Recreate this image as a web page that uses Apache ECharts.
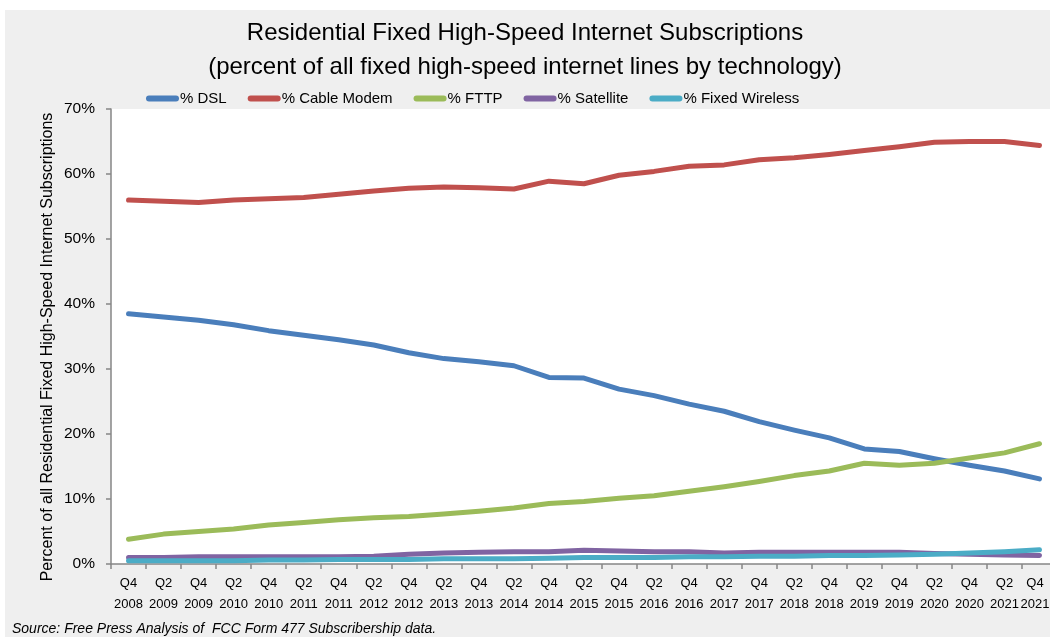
<!DOCTYPE html>
<html>
<head>
<meta charset="utf-8">
<script src="https://cdn.jsdelivr.net/npm/echarts@6/dist/echarts.min.js"></script>
<style>
  html, body { margin: 0; padding: 0; background: #ffffff; }
  #chart { width: 1050px; height: 637px; }
</style>
</head>
<body>
<div id="chart"></div>
<script>
// Half-year reporting periods
var periods = [
  'Q4\n2008', 'Q2\n2009', 'Q4\n2009', 'Q2\n2010', 'Q4\n2010', 'Q2\n2011', 'Q4\n2011',
  'Q2\n2012', 'Q4\n2012', 'Q2\n2013', 'Q4\n2013', 'Q2\n2014', 'Q4\n2014', 'Q2\n2015',
  'Q4\n2015', 'Q2\n2016', 'Q4\n2016', 'Q2\n2017', 'Q4\n2017', 'Q2\n2018', 'Q4\n2018',
  'Q2\n2019', 'Q4\n2019', 'Q2\n2020', 'Q4\n2020', 'Q2\n2021', 'Q4\n2021'
];

// Share of residential fixed high-speed lines, percent
var dsl = [38.5, 38.0, 37.5, 36.8, 35.9, 35.2, 34.5, 33.7, 32.5, 31.6, 31.1, 30.5, 28.7, 28.6,
  26.9, 25.9, 24.6, 23.5, 21.9, 20.6, 19.4, 17.7, 17.3, 16.2, 15.2, 14.3, 13.1];
var cableModem = [56.0, 55.8, 55.6, 56.0, 56.2, 56.4, 56.9, 57.4, 57.8, 58.0, 57.9, 57.7, 58.9, 58.5,
  59.8, 60.4, 61.2, 61.4, 62.2, 62.5, 63.0, 63.6, 64.2, 64.9, 65.0, 65.0, 64.4];
var fttp = [3.8, 4.6, 5.0, 5.4, 6.0, 6.4, 6.8, 7.1, 7.3, 7.7, 8.1, 8.6, 9.3, 9.6,
  10.1, 10.5, 11.2, 11.9, 12.7, 13.6, 14.3, 15.5, 15.2, 15.5, 16.3, 17.1, 18.5];
var satellite = [1.0, 1.0, 1.1, 1.1, 1.1, 1.1, 1.1, 1.2, 1.5, 1.7, 1.8, 1.9, 1.9, 2.1,
  2.0, 1.9, 1.9, 1.7, 1.8, 1.8, 1.8, 1.8, 1.8, 1.6, 1.5, 1.4, 1.3];
var fixedWireless = [0.5, 0.5, 0.5, 0.5, 0.6, 0.6, 0.7, 0.7, 0.7, 0.8, 0.8, 0.8, 0.9, 1.0,
  1.0, 1.0, 1.1, 1.1, 1.2, 1.2, 1.3, 1.3, 1.4, 1.5, 1.7, 1.9, 2.2];

var seriesNames = ['% DSL', '% Cable Modem', '% FTTP', '% Satellite', '% Fixed Wireless'];
var seriesColors = ['#4a7ebb', '#c0504d', '#9bbb59', '#8064a2', '#4bacc6'];
var seriesData = [dsl, cableModem, fttp, satellite, fixedWireless];

var FONT = '"Liberation Sans", Arial, sans-serif';

var chart = echarts.init(document.getElementById('chart'), null, { renderer: 'canvas' });

var option = {
  animation: false,
  backgroundColor: '#ffffff',
  textStyle: { fontFamily: FONT, color: '#000' },
  graphic: [
    {
      type: 'rect', z: -10, silent: true,
      shape: { x: 5, y: 10, width: 1045, height: 627 },
      style: { fill: '#efefef' }
    },
    {
      type: 'text', silent: true,
      x: 48, y: 347, rotation: Math.PI / 2,
      style: {
        text: 'Percent of all Residential Fixed High-Speed Internet Subscriptions',
        font: '16px ' + FONT, fill: '#000',
        align: 'center', verticalAlign: 'middle'
      }
    },
    {
      type: 'text', left: 12, top: 622, silent: true,
      style: {
        text: 'Source: Free Press Analysis of  FCC Form 477 Subscribership data.',
        font: 'italic 14px ' + FONT, fill: '#000'
      }
    }
  ],
  title: {
    text: 'Residential Fixed High-Speed Internet Subscriptions\n(percent of all fixed high-speed internet lines by technology)',
    left: 'center', top: 11,
    textStyle: { fontFamily: FONT, fontSize: 24, fontWeight: 'normal', color: '#000', lineHeight: 34 }
  },
  legend: {
    top: 86, left: 141,
    itemWidth: 33, itemHeight: 6, itemGap: 21,
    icon: 'path://M3 0H30A3 3 0 0 1 30 6H3A3 3 0 0 1 3 0Z',
    textStyle: { fontFamily: FONT, fontSize: 15, color: '#000', padding: [0, 0, 0, -4] },
    data: seriesNames
  },
  grid: {
    left: 111, top: 109, width: 946, height: 455,
    outerBoundsMode: 'none',
    containLabel: false,
    show: true, backgroundColor: '#ffffff', borderWidth: 0
  },
  xAxis: {
    type: 'category',
    data: periods,
    boundaryGap: true,
    axisLine: { lineStyle: { color: '#868686', width: 1.5 } },
    axisTick: { show: true, interval: 0, length: 5, lineStyle: { color: '#868686', width: 1.5 } },
    axisLabel: {
      interval: 0, fontFamily: FONT, fontSize: 13, color: '#000', lineHeight: 21, margin: 9,
      // the final period label is nudged left so it stays inside the frame
      formatter: function (value, index) {
        return index === periods.length - 1 ? '{edge|' + value + '}' : value;
      },
      rich: {
        edge: { fontFamily: FONT, fontSize: 13, color: '#000', lineHeight: 21, padding: [0, 9, 0, 0] }
      }
    },
    splitLine: { show: false }
  },
  yAxis: {
    type: 'value',
    min: 0, max: 70, interval: 10,
    axisLine: { show: true, lineStyle: { color: '#868686', width: 1.5 } },
    axisTick: { show: true, length: 5, lineStyle: { color: '#868686', width: 1.5 } },
    axisLabel: { formatter: '{value}%', fontFamily: FONT, fontSize: 15.5, color: '#000', margin: 16 },
    splitLine: { show: false }
  },
  series: seriesNames.map(function (name, i) {
    return {
      name: name,
      type: 'line',
      data: seriesData[i],
      showSymbol: false,
      symbol: 'none',
      clip: true,
      color: seriesColors[i],
      lineStyle: { width: 5, color: seriesColors[i], cap: 'round', join: 'round' },
      z: 2 + i
    };
  })
};

chart.setOption(option);
</script>
</body>
</html>
